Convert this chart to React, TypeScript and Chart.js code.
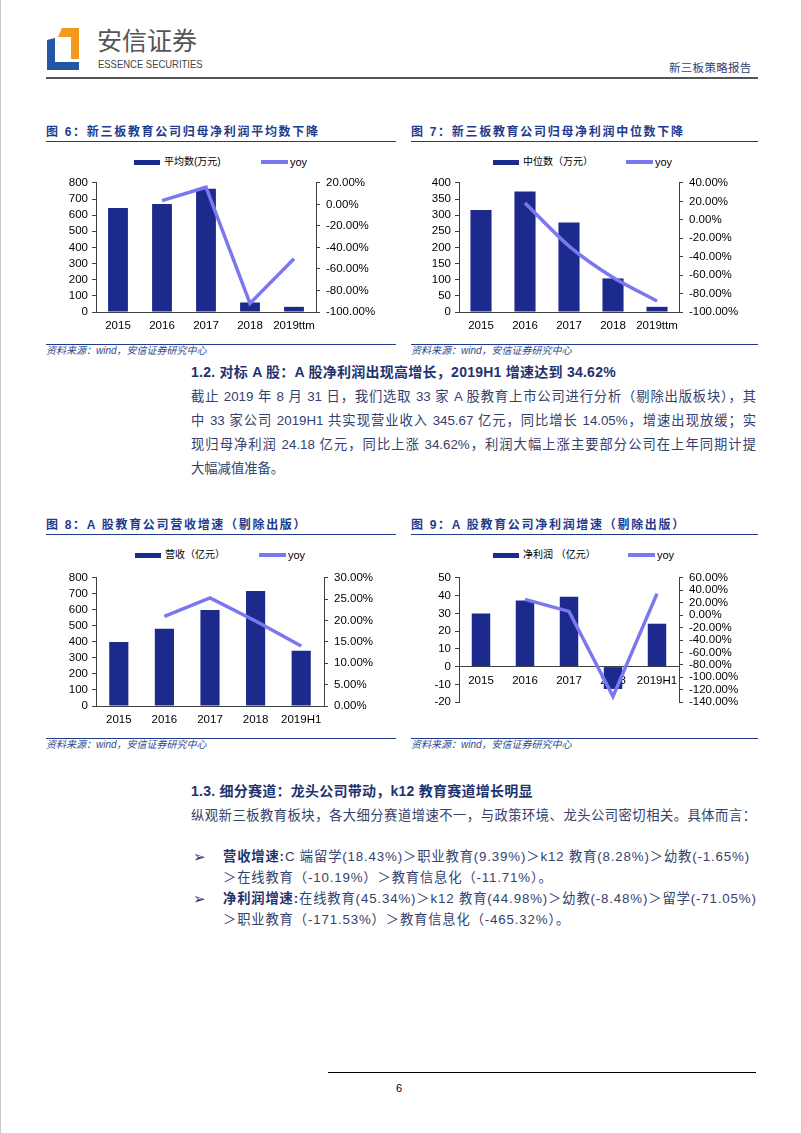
import React, { useEffect, useRef } from 'react';
import { Chart, registerables } from 'chart.js';

Chart.register(...registerables);

// ---------- data ----------
const years6 = ['2015', '2016', '2017', '2018', '2019ttm'];
const mean6 = [644, 670, 764, 59, 32];
const meanYoy6 = [null, 3.5, 16.0, -92.0, -50.5];

const years7 = ['2015', '2016', '2017', '2018', '2019ttm'];
const median7 = [316, 373, 277, 104, 16];
const medianYoy7 = [null, 18.3, -28.5, -62.5, -88.0];

const years8 = ['2015', '2016', '2017', '2018', '2019H1'];
const revenue8 = [400, 483, 600, 718, 345.67];
const revenueYoy8 = [null, 21.0, 25.3, 19.9, 14.05];

const years9 = ['2015', '2016', '2017', '2018', '2019H1'];
const profit9 = [30, 37.3, 39.4, -12.6, 24.18];
const profitYoy9 = [null, 25.5, 6.0, -131.0, 34.62];

// ---------- styles ----------
const BAR = '#1b2a8c';
const LINE = '#7b78ef';
const AXIS = '#404040';
const TITLE = '#1f3c8c';
const HEAD = '#1f3370';
const BODY = '#34416c';
const SRC = '#2d4a8f';
const FONT = "'Liberation Sans', Arial, 'Noto Sans CJK SC', sans-serif";

Chart.defaults.font.family = FONT;

type Spec = {
  left: number; top: number; width: number; height: number;
  labels: string[]; bars: number[]; line: (number | null)[];
  lMin: number; lMax: number; lStep: number;
  rMin: number; rMax: number; rStep: number;
  leftW: number; rightW: number; padTop: number; padBottom: number; xH: number;
  barPct: number; tension: number; zeroAxis?: boolean;
};

function ComboChart(p: Spec) {
  const ref = useRef<HTMLCanvasElement>(null);
  useEffect(() => {
    const chart = new Chart(ref.current as HTMLCanvasElement, {
      type: 'bar',
      data: {
        labels: p.labels,
        datasets: [
          {
            type: 'line',
            data: p.line as any,
            yAxisID: 'y1',
            borderColor: LINE,
            backgroundColor: LINE,
            borderWidth: 3.5,
            pointRadius: 0,
            tension: p.tension,
            order: 0,
          } as any,
          {
            type: 'bar',
            data: p.bars,
            yAxisID: 'y',
            backgroundColor: BAR,
            barPercentage: p.barPct,
            categoryPercentage: 1,
            order: 1,
          } as any,
        ],
      },
      options: {
        animation: false,
        responsive: true,
        maintainAspectRatio: false,
        layout: { padding: { top: p.padTop, bottom: p.padBottom, left: 0, right: 0 } },
        plugins: { legend: { display: false }, tooltip: { enabled: false } },
        scales: {
          x: {
            type: 'category',
            offset: true,
            position: (p.zeroAxis ? { y: 0 } : 'bottom') as any,
            grid: { display: false, drawTicks: false },
            border: { display: true, color: AXIS, width: 1 },
            ticks: { color: '#000', font: { size: 11.5 }, padding: 7, maxRotation: 0, autoSkip: false },
            afterFit: (s: any) => { if (!p.zeroAxis) s.height = p.xH; },
          },
          y: {
            position: 'left',
            min: p.lMin, max: p.lMax,
            ticks: { stepSize: p.lStep, color: '#000', font: { size: 11.5 }, padding: 4, autoSkip: false },
            grid: { display: true, drawOnChartArea: false, drawTicks: true, tickLength: 4, color: AXIS },
            border: { display: true, color: AXIS, width: 1 },
            afterFit: (s: any) => { s.width = p.leftW; },
          },
          y1: {
            position: 'right',
            min: p.rMin, max: p.rMax,
            ticks: {
              stepSize: p.rStep, color: '#000', font: { size: 11.5 }, padding: 6, autoSkip: false,
              callback: (v: any) => Number(v).toFixed(2) + '%',
            },
            grid: { display: true, drawOnChartArea: false, drawTicks: true, tickLength: 4, color: AXIS },
            border: { display: true, color: AXIS, width: 1 },
            afterFit: (s: any) => { s.width = p.rightW; },
          },
        },
      } as any,
    });
    return () => chart.destroy();
  }, []);
  return (
    <div style={{ position: 'absolute', left: p.left, top: p.top, width: p.width, height: p.height }}>
      <canvas ref={ref} />
    </div>
  );
}

function T({ x, y, size = 13.3, color = BODY, style = {}, children }: any) {
  return (
    <div style={{
      position: 'absolute', left: x, top: y - 10, height: 20, lineHeight: '20px',
      fontSize: size, color, whiteSpace: 'nowrap', ...style,
    }}>{children}</div>
  );
}

function J({ x, y, w, size = 13.3, color = BODY, children }: any) {
  return (
    <div style={{
      position: 'absolute', left: x, top: y - 10, width: w, height: 20, lineHeight: '20px',
      fontSize: size, color, whiteSpace: 'nowrap', textAlign: 'justify', textAlignLast: 'justify' as any,
      overflow: 'visible',
    }}>{children}</div>
  );
}

function HLine({ x, y, w, h = 1, color }: any) {
  return <div style={{ position: 'absolute', left: x, top: y, width: w, height: h, background: color }} />;
}

function FigTitle({ x, y, w, text }: any) {
  return (
    <>
      <T x={x} y={y} size={12} color={TITLE} style={{ fontWeight: 'bold', letterSpacing: '1.7px' }}>{text}</T>
      <HLine x={x} y={y + 9} w={w} color={TITLE} />
    </>
  );
}

function Source({ x, y, w }: any) {
  return (
    <>
      <HLine x={x} y={y} w={w} color={TITLE} />
      <T x={x} y={y + 7} size={10} color={SRC} style={{ fontStyle: 'italic' }}>资料来源：wind，安信证券研究中心</T>
    </>
  );
}

function Legend({ y, barX, barText, lineX }: any) {
  return (
    <>
      <div style={{ position: 'absolute', left: barX, top: y - 2.5, width: 26, height: 5, background: BAR }} />
      <T x={barX + 30} y={y} size={10} color="#000">{barText}</T>
      <div style={{ position: 'absolute', left: lineX, top: y - 1.75, width: 27, height: 3.5, background: LINE }} />
      <T x={lineX + 29} y={y} size={11} color="#000">yoy</T>
    </>
  );
}

const bulletStyle = { letterSpacing: '0.85px' };

export default function App() {
  return (
    <div style={{
      position: 'absolute', left: 0, top: 0, width: 802, height: 1133, background: '#fff',
      fontFamily: FONT, borderLeft: '1px solid #c8c8c8', borderRight: '1px solid #c8c8c8', boxSizing: 'border-box',
      overflow: 'hidden',
    }}>
      {/* header */}
      <svg style={{ position: 'absolute', left: 40, top: 25 }} width={45} height={50}>
        <polygon points="17,12 21,3 38,3 38,34 30,34 30,12" fill="#f39a1e" />
        <polygon points="6,15 14,13 14,37 38,37 38,45 6,45" fill="#2356a5" />
      </svg>
      <T x={96} y={41} size={25} color="#555" style={{ letterSpacing: '0px' }}>安信证券</T>
      <div style={{
        position: 'absolute', left: 97, top: 58, fontSize: 11, lineHeight: '12px', color: '#444',
        whiteSpace: 'nowrap', transform: 'scaleX(0.86)', transformOrigin: 'left top',
      }}>ESSENCE SECURITIES</div>
      <T x={668} y={68} size={11.5} color="#34416c" style={{ letterSpacing: '0.3px' }}>新三板策略报告</T>
      <HLine x={45} y={77} w={712} h={2} color="#555" />

      {/* figure 6 */}
      <FigTitle x={45} y={132} w={350} text="图 6：新三板教育公司归母净利润平均数下降" />
      <Legend y={162} barX={133} barText="平均数(万元)" lineX={260} />
      <ComboChart left={45} top={170} width={340} height={170}
        labels={years6} bars={mean6} line={meanYoy6}
        lMin={0} lMax={800} lStep={100} rMin={-100} rMax={20} rStep={20}
        leftW={50} rightW={70} padTop={7} padBottom={0} xH={28} barPct={0.45} tension={0} />
      <Source x={45} y={344} w={350} />

      {/* figure 7 */}
      <FigTitle x={410} y={132} w={347} text="图 7：新三板教育公司归母净利润中位数下降" />
      <Legend y={162} barX={492} barText="中位数（万元）" lineX={625} />
      <ComboChart left={410} top={170} width={345} height={170}
        labels={years7} bars={median7} line={medianYoy7}
        lMin={0} lMax={400} lStep={50} rMin={-100} rMax={40} rStep={20}
        leftW={48} rightW={77} padTop={7} padBottom={0} xH={28} barPct={0.48} tension={0.25} />
      <Source x={410} y={344} w={347} />

      {/* section 1.2 */}
      <T x={190} y={372} size={14} color={HEAD} style={{ fontWeight: 'bold', letterSpacing: '0.25px' }}>1.2. 对标 A 股：A 股净利润出现高增长，2019H1 增速达到 34.62%</T>
      <J x={190} y={397} w={565}>截止 2019 年 8 月 31 日，我们选取 33 家 A 股教育上市公司进行分析（剔除出版板块），其</J>
      <J x={190} y={421} w={565}>中 33 家公司 2019H1 共实现营业收入 345.67 亿元，同比增长 14.05%，增速出现放缓；实</J>
      <J x={190} y={445} w={565}>现归母净利润 24.18 亿元，同比上涨 34.62%，利润大幅上涨主要部分公司在上年同期计提</J>
      <T x={190} y={469}>大幅减值准备。</T>

      {/* figure 8 */}
      <FigTitle x={45} y={525} w={350} text="图 8：A 股教育公司营收增速（剔除出版）" />
      <Legend y={555} barX={134} barText="营收（亿元）" lineX={258} />
      <ComboChart left={45} top={565} width={340} height={170}
        labels={years8} bars={revenue8} line={revenueYoy8}
        lMin={0} lMax={800} lStep={100} rMin={0} rMax={30} rStep={5}
        leftW={50} rightW={62} padTop={7} padBottom={0} xH={29} barPct={0.42} tension={0} />
      <Source x={45} y={738} w={350} />

      {/* figure 9 */}
      <FigTitle x={410} y={525} w={347} text="图 9：A 股教育公司净利润增速（剔除出版）" />
      <Legend y={555} barX={492} barText="净利润 （亿元）" lineX={627} />
      <ComboChart left={410} top={565} width={345} height={150}
        labels={years9} bars={profit9} line={profitYoy9}
        lMin={-20} lMax={50} lStep={10} rMin={-140} rMax={60} rStep={20}
        leftW={48} rightW={77} padTop={6} padBottom={8} xH={0} barPct={0.42} tension={0} zeroAxis />
      <Source x={410} y={738} w={347} />

      {/* section 1.3 */}
      <T x={190} y={791} size={14} color={HEAD} style={{ fontWeight: 'bold', letterSpacing: '0.25px' }}>1.3. 细分赛道：龙头公司带动，k12 教育赛道增长明显</T>
      <J x={190} y={816} w={565}>纵观新三板教育板块，各大细分赛道增速不一，与政策环境、龙头公司密切相关。具体而言：</J>

      <T x={192} y={857} size={15} color={HEAD} style={{ fontFamily: "'DejaVu Sans', sans-serif" }}>➢</T>
      <T x={222} y={857} style={bulletStyle}><b style={{ color: HEAD }}>营收增速:</b>C 端留学(18.43%)＞职业教育(9.39%)＞k12 教育(8.28%)＞幼教(-1.65%)</T>
      <T x={222} y={878} style={bulletStyle}>＞在线教育（-10.19%）＞教育信息化（-11.71%）。</T>
      <T x={192} y={899} size={15} color={HEAD} style={{ fontFamily: "'DejaVu Sans', sans-serif" }}>➢</T>
      <T x={222} y={899} style={bulletStyle}><b style={{ color: HEAD }}>净利润增速:</b>在线教育(45.34%)＞k12 教育(44.98%)＞幼教(-8.48%)＞留学(-71.05%)</T>
      <T x={222} y={920} style={bulletStyle}>＞职业教育（-171.53%）＞教育信息化（-465.32%）。</T>

      {/* footer */}
      <HLine x={327} y={1072} w={428} color="#000" />
      <T x={395} y={1088} size={11} color="#000">6</T>
    </div>
  );
}
